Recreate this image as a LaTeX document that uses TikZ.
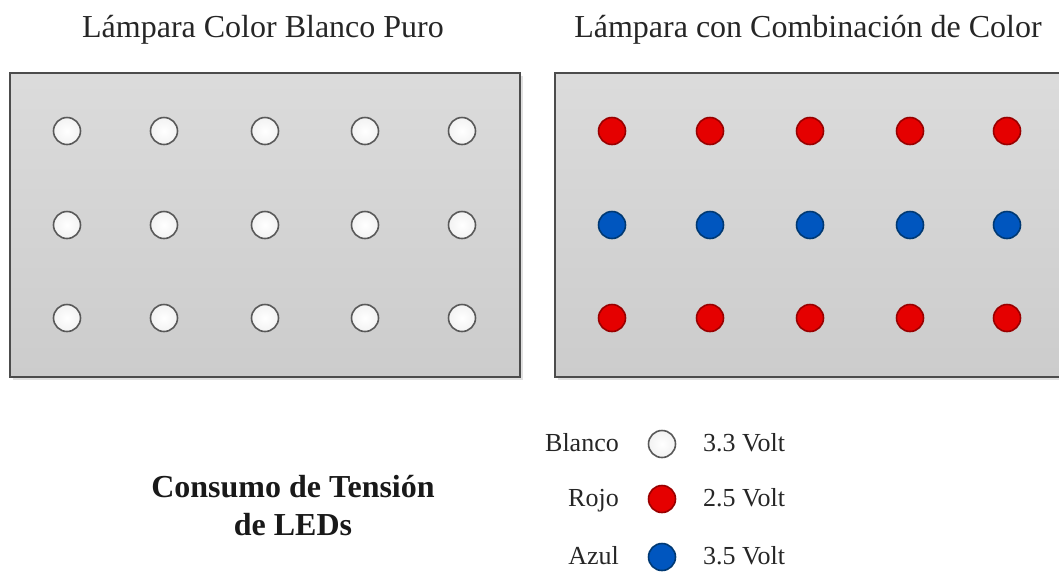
\documentclass[tikz,border=0pt]{standalone}
\usepackage{fontspec}
\setmainfont{Liberation Serif}
\begin{document}
\begin{tikzpicture}[x=1pt,y=-1pt,
  panel/.style={draw=black!70,line width=1.3pt,top color=black!14,bottom color=black!20},
  ledbase/.style={circle,minimum size=27pt,inner sep=0pt,line width=1.6pt},
  ledwhite/.style={ledbase,draw=black!65,inner color=white,outer color=black!5},
  ledred/.style={ledbase,draw=red!60!black,fill=red!90!black},
  ledblue/.style={ledbase,draw=blue!50!cyan!45!black,fill=blue!55!cyan!75!black},
  title/.style={font=\fontsize{32}{38}\selectfont,text=black!85,anchor=base},
  legtext/.style={font=\fontsize{26}{31}\selectfont,text=black!85,inner sep=0pt,anchor=base east},
  legval/.style={font=\fontsize{26}{31}\selectfont,text=black!85,inner sep=0pt,anchor=base west}]
\useasboundingbox (0,0) rectangle (1059,574);
\clip (0,0) rectangle (1059,574);

% titles
\node[title] (t1) at (263,37) {Lámpara Color Blanco Puro};
\node[title] (t2) at (808,37) {Lámpara con Combinación de Color};

% panels with a soft drop shadow
\fill[black!12] (13,76) rectangle (523,380);
\fill[black!12] (558,76) rectangle (1068,380);
\path[panel] (10,73) rectangle (520,377);
\path[panel] (555,73) rectangle (1065,377);

% LEDs of the white lamp
\foreach \x [count=\i] in {67,164,265,365,462}{
  \node[ledwhite] (w1\i) at (\x,131) {};
  \node[ledwhite] (w2\i) at (\x,225) {};
  \node[ledwhite] (w3\i) at (\x,318) {};
}
% LEDs of the colour lamp
\foreach \x [count=\i] in {612,710,810,910,1007}{
  \node[ledred] (c1\i) at (\x,131) {};
  \node[ledblue] (c2\i) at (\x,225) {};
  \node[ledred] (c3\i) at (\x,318) {};
}

% caption (base anchor sits on the last line)
\node[font=\bfseries\fontsize{32}{38}\selectfont,align=center,anchor=base,text=black!90] (cap) at (293,535) {Consumo de Tensión\\de LEDs};

% legend
\node[legtext] (lb) at (619,451) {Blanco};
\node[ledwhite] (lbc) at (662,444) {};
\node[legval] (lbv) at (703,451) {3.3 Volt};
\node[legtext] (lr) at (619,506) {Rojo};
\node[ledred] (lrc) at (662,499) {};
\node[legval] (lrv) at (703,506) {2.5 Volt};
\node[legtext] (la) at (619,564) {Azul};
\node[ledblue] (lac) at (662,557) {};
\node[legval] (lav) at (703,564) {3.5 Volt};
\end{tikzpicture}
\end{document}
